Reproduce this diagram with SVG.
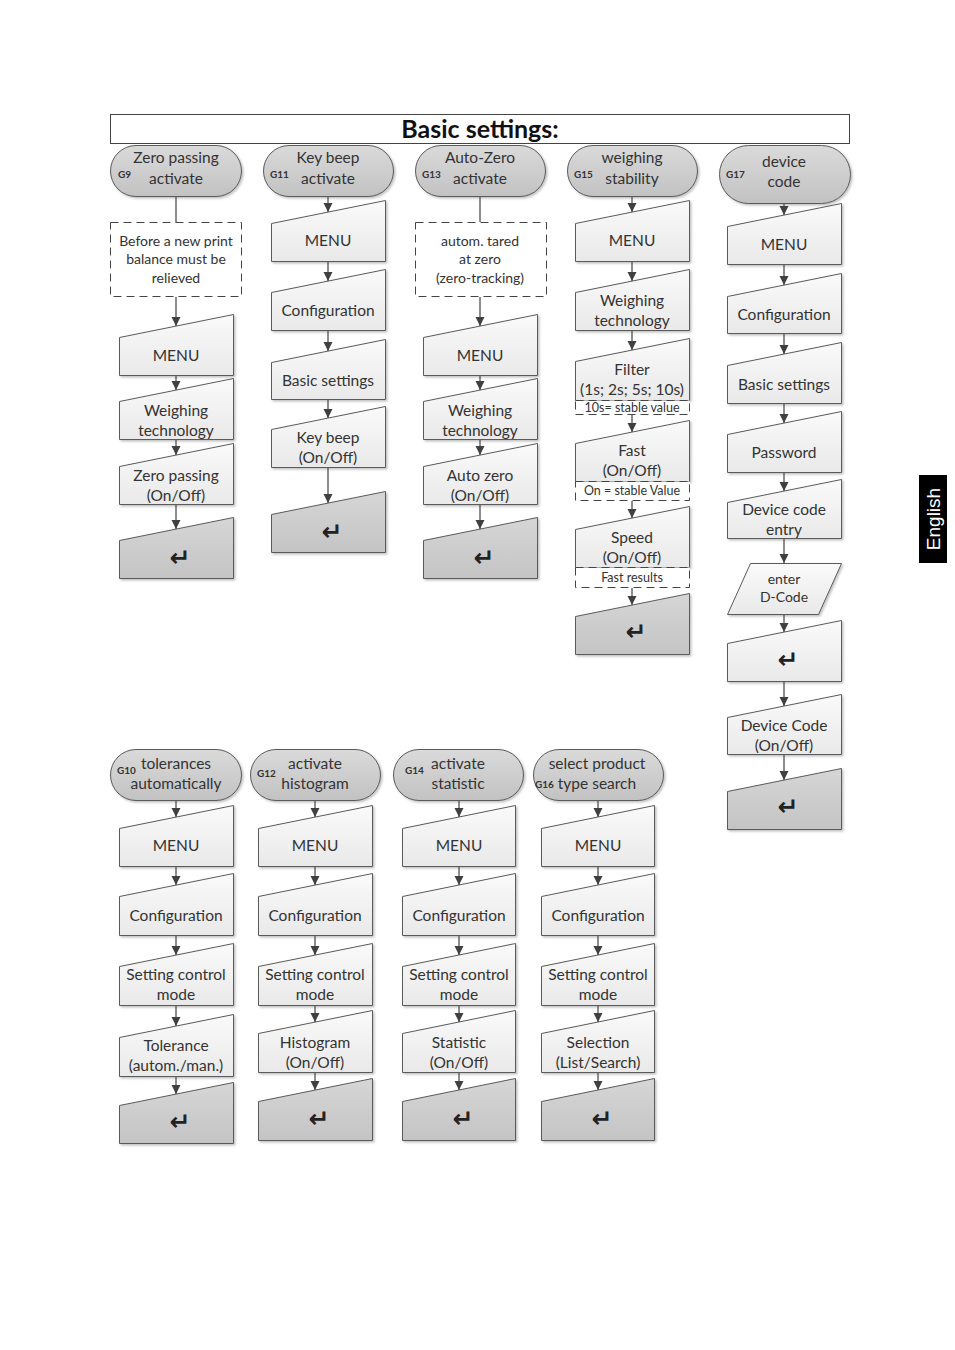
<svg xmlns="http://www.w3.org/2000/svg" width="955" height="1350" viewBox="0 0 955 1350">
<defs>
<linearGradient id="gPill" x1="0" y1="0" x2="0" y2="1"><stop offset="0" stop-color="#dadada"/><stop offset="1" stop-color="#c2c2c2"/></linearGradient>
<linearGradient id="gBox" x1="0" y1="0" x2="0" y2="1"><stop offset="0" stop-color="#fafafa"/><stop offset="1" stop-color="#e9e9e9"/></linearGradient>
<linearGradient id="gRet" x1="0" y1="0" x2="0" y2="1"><stop offset="0" stop-color="#d6d6d6"/><stop offset="1" stop-color="#c4c4c4"/></linearGradient>
<filter id="sh" x="-10%" y="-10%" width="130%" height="130%"><feDropShadow dx="1.5" dy="1.5" stdDeviation="1.2" flood-color="#000" flood-opacity="0.25"/></filter>
<marker id="ar" markerWidth="10" markerHeight="10" refX="9" refY="5" orient="auto" markerUnits="userSpaceOnUse"><path d="M0,0.5 L9,5 L0,9.5 Z" fill="#404040"/></marker>
</defs>
<style>
.pill{fill:url(#gPill);stroke:#5a5a5a;stroke-width:1;filter:url(#sh)}
.box{fill:url(#gBox);stroke:#5a5a5a;stroke-width:1;filter:url(#sh)}
.ret{fill:url(#gRet);stroke:#5a5a5a;stroke-width:1;filter:url(#sh)}
.dash{fill:#fff;stroke:#444;stroke-width:1;stroke-dasharray:8,5}
.note{fill:#fff;stroke:#444;stroke-width:1;stroke-dasharray:8,5}
.t{font-family:Lato,"Liberation Sans",sans-serif;font-size:15.5px;fill:#333;text-anchor:middle}
.s{font-family:Lato,"Liberation Sans",sans-serif;font-size:14px;fill:#333;text-anchor:middle}
.n{font-family:Lato,"Liberation Sans",sans-serif;font-size:12.5px;fill:#333;text-anchor:middle}
.g{font-family:Lato,"Liberation Sans",sans-serif;font-size:10px;font-weight:bold;fill:#333}
.r{font-family:"DejaVu Sans",sans-serif;font-size:25px;font-weight:bold;fill:#222;text-anchor:middle}
.c line{stroke:#505050;stroke-width:1.3}
</style>

<g id="title">
<rect x="110.5" y="114.5" width="739" height="29" fill="#fff" stroke="#444"/>
<text x="480" y="137.5" font-family="Lato,'Liberation Sans',sans-serif" font-size="25" font-weight="bold" fill="#111" text-anchor="middle">Basic settings:</text>
</g>

<!-- Column 1: G9 -->
<g id="g9"><rect class="pill" x="110.5" y="145.5" width="131" height="51" rx="25.5"/><text class="t" x="176" y="163">Zero passing</text><text class="t" x="176" y="184">activate</text><text class="g" x="118" y="178">G9</text></g>
<g id="c1note"><rect class="dash" x="110.5" y="222.5" width="131" height="74"/><text class="s" x="176" y="245.5">Before a new print</text><text class="s" x="176" y="264">balance must be</text><text class="s" x="176" y="282.5">relieved</text></g>
<g id="c1menu"><path class="box" d="M119.5,337.5 L233.5,314.5 L233.5,375.5 L119.5,375.5 Z"/><text class="t" x="176" y="361">MENU</text></g>
<g id="c1wt"><path class="box" d="M119.5,401.5 L233.5,378.5 L233.5,439.5 L119.5,439.5 Z"/><text class="t" x="176" y="416">Weighing</text><text class="t" x="176" y="436">technology</text></g>
<g id="c1zp"><path class="box" d="M119.5,466.5 L233.5,443.5 L233.5,504.5 L119.5,504.5 Z"/><text class="t" x="176" y="481">Zero passing</text><text class="t" x="176" y="501">(On/Off)</text></g>
<g id="c1ret"><path class="ret" d="M119.5,540.5 L233.5,517.5 L233.5,578.5 L119.5,578.5 Z"/><text class="r" x="180" y="566">↵</text></g>

<!-- Column 2: G11 -->
<g id="g11"><rect class="pill" x="263.5" y="145.5" width="130" height="51" rx="25.5"/><text class="t" x="328" y="163">Key beep</text><text class="t" x="328" y="184">activate</text><text class="g" x="270" y="178">G11</text></g>
<g id="c2menu"><path class="box" d="M271.5,223.5 L385.5,200.5 L385.5,261.5 L271.5,261.5 Z"/><text class="t" x="328" y="246">MENU</text></g>
<g id="c2conf"><path class="box" d="M271.5,292.5 L385.5,269.5 L385.5,330.5 L271.5,330.5 Z"/><text class="t" x="328" y="316">Configuration</text></g>
<g id="c2basic"><path class="box" d="M271.5,362.5 L385.5,339.5 L385.5,399.5 L271.5,399.5 Z"/><text class="t" x="328" y="386">Basic settings</text></g>
<g id="c2key"><path class="box" d="M271.5,429.5 L385.5,406.5 L385.5,467.5 L271.5,467.5 Z"/><text class="t" x="328" y="443">Key beep</text><text class="t" x="328" y="463">(On/Off)</text></g>
<g id="c2ret"><path class="ret" d="M271.5,514.5 L385.5,491.5 L385.5,552.5 L271.5,552.5 Z"/><text class="r" x="332" y="540">↵</text></g>

<!-- Column 3: G13 -->
<g id="g13"><rect class="pill" x="415.5" y="145.5" width="130" height="51" rx="25.5"/><text class="t" x="480" y="163">Auto-Zero</text><text class="t" x="480" y="184">activate</text><text class="g" x="422" y="178">G13</text></g>
<g id="c3note"><rect class="dash" x="415.5" y="222.5" width="131" height="74"/><text class="s" x="480" y="245.5">autom. tared</text><text class="s" x="480" y="264">at zero</text><text class="s" x="480" y="282.5">(zero-tracking)</text></g>
<g id="c3menu"><path class="box" d="M423.5,337.5 L537.5,314.5 L537.5,375.5 L423.5,375.5 Z"/><text class="t" x="480" y="361">MENU</text></g>
<g id="c3wt"><path class="box" d="M423.5,401.5 L537.5,378.5 L537.5,439.5 L423.5,439.5 Z"/><text class="t" x="480" y="416">Weighing</text><text class="t" x="480" y="436">technology</text></g>
<g id="c3az"><path class="box" d="M423.5,466.5 L537.5,443.5 L537.5,504.5 L423.5,504.5 Z"/><text class="t" x="480" y="481">Auto zero</text><text class="t" x="480" y="501">(On/Off)</text></g>
<g id="c3ret"><path class="ret" d="M423.5,540.5 L537.5,517.5 L537.5,578.5 L423.5,578.5 Z"/><text class="r" x="484" y="566">↵</text></g>

<!-- Column 4: G15 -->
<g id="g15"><rect class="pill" x="567.5" y="145.5" width="130" height="51" rx="25.5"/><text class="t" x="632" y="163">weighing</text><text class="t" x="632" y="184">stability</text><text class="g" x="574" y="178">G15</text></g>
<g id="c4menu"><path class="box" d="M575.5,223.5 L689.5,200.5 L689.5,261.5 L575.5,261.5 Z"/><text class="t" x="632" y="246">MENU</text></g>
<g id="c4wt"><path class="box" d="M575.5,292.5 L689.5,269.5 L689.5,330.5 L575.5,330.5 Z"/><text class="t" x="632" y="306">Weighing</text><text class="t" x="632" y="326">technology</text></g>
<g id="c4filter"><path class="box" d="M575.5,361.5 L689.5,338.5 L689.5,400.5 L575.5,400.5 Z"/><text class="t" x="632" y="375">Filter</text><text class="t" x="632" y="395">(1s; 2s; 5s; 10s)</text></g>
<g id="c4n1"><rect class="note" x="575.5" y="400.5" width="114" height="14"/><text class="n" x="632" y="412">10s= stable value</text></g>
<g id="c4fast"><path class="box" d="M575.5,443.5 L689.5,420.5 L689.5,481.5 L575.5,481.5 Z"/><text class="t" x="632" y="456">Fast</text><text class="t" x="632" y="476">(On/Off)</text></g>
<g id="c4n2"><rect class="note" x="575.5" y="481.5" width="114" height="19"/><text class="n" x="632" y="495">On = stable Value</text></g>
<g id="c4speed"><path class="box" d="M575.5,529.5 L689.5,506.5 L689.5,567.5 L575.5,567.5 Z"/><text class="t" x="632" y="543">Speed</text><text class="t" x="632" y="563">(On/Off)</text></g>
<g id="c4n3"><rect class="note" x="575.5" y="567.5" width="114" height="20"/><text class="n" x="632" y="582">Fast results</text></g>
<g id="c4ret"><path class="ret" d="M575.5,616.5 L689.5,593.5 L689.5,654.5 L575.5,654.5 Z"/><text class="r" x="636" y="640">↵</text></g>

<!-- Column 5: G17 -->
<g id="g17"><rect class="pill" x="719.5" y="145.5" width="131" height="58" rx="29"/><text class="t" x="784" y="167">device</text><text class="t" x="784" y="187">code</text><text class="g" x="726" y="178">G17</text></g>
<g id="c5menu"><path class="box" d="M727.5,226.5 L841.5,203.5 L841.5,264.5 L727.5,264.5 Z"/><text class="t" x="784" y="250">MENU</text></g>
<g id="c5conf"><path class="box" d="M727.5,296.5 L841.5,273.5 L841.5,333.5 L727.5,333.5 Z"/><text class="t" x="784" y="320">Configuration</text></g>
<g id="c5basic"><path class="box" d="M727.5,365.5 L841.5,342.5 L841.5,403.5 L727.5,403.5 Z"/><text class="t" x="784" y="390">Basic settings</text></g>
<g id="c5pw"><path class="box" d="M727.5,434.5 L841.5,411.5 L841.5,472.5 L727.5,472.5 Z"/><text class="t" x="784" y="458">Password</text></g>
<g id="c5dce"><path class="box" d="M727.5,502.5 L841.5,479.5 L841.5,538.5 L727.5,538.5 Z"/><text class="t" x="784" y="515">Device code</text><text class="t" x="784" y="535">entry</text></g>
<g id="c5enter"><path class="box" d="M750.5,563.5 L841.5,563.5 L818.5,614.5 L727.5,614.5 Z"/><text class="s" x="784" y="584">enter</text><text class="s" x="784" y="602">D-Code</text></g>
<g id="c5ret1"><path class="box" d="M727.5,643.5 L841.5,620.5 L841.5,681.5 L727.5,681.5 Z"/><text class="r" x="788" y="668">↵</text></g>
<g id="c5dc"><path class="box" d="M727.5,717.5 L841.5,694.5 L841.5,754.5 L727.5,754.5 Z"/><text class="t" x="784" y="731">Device Code</text><text class="t" x="784" y="751">(On/Off)</text></g>
<g id="c5ret2"><path class="ret" d="M727.5,791.5 L841.5,768.5 L841.5,829.5 L727.5,829.5 Z"/><text class="r" x="788" y="815">↵</text></g>

<!-- Bottom A: G10 -->
<g id="g10"><rect class="pill" x="110.5" y="749.5" width="131" height="51" rx="25.5"/><text class="t" x="176" y="769">tolerances</text><text class="t" x="176" y="789">automatically</text><text class="g" x="117" y="774">G10</text></g>
<g id="aMenu"><path class="box" d="M119.5,828.5 L233.5,805.5 L233.5,866.5 L119.5,866.5 Z"/><text class="t" x="176" y="851">MENU</text></g>
<g id="aConf"><path class="box" d="M119.5,896.5 L233.5,873.5 L233.5,935.5 L119.5,935.5 Z"/><text class="t" x="176" y="921">Configuration</text></g>
<g id="aScm"><path class="box" d="M119.5,966.5 L233.5,943.5 L233.5,1005.5 L119.5,1005.5 Z"/><text class="t" x="176" y="980">Setting control</text><text class="t" x="176" y="1000">mode</text></g>
<g id="aTol"><path class="box" d="M119.5,1037.5 L233.5,1014.5 L233.5,1076.5 L119.5,1076.5 Z"/><text class="t" x="176" y="1051">Tolerance</text><text class="t" x="176" y="1071">(autom./man.)</text></g>
<g id="aRet"><path class="ret" d="M119.5,1105.5 L233.5,1082.5 L233.5,1143.5 L119.5,1143.5 Z"/><text class="r" x="180" y="1130">↵</text></g>

<!-- Bottom B: G12 -->
<g id="g12"><rect class="pill" x="250.5" y="749.5" width="130" height="51" rx="25.5"/><text class="t" x="315" y="769">activate</text><text class="t" x="315" y="789">histogram</text><text class="g" x="257" y="777">G12</text></g>
<g id="bMenu"><path class="box" d="M258.5,828.5 L372.5,805.5 L372.5,866.5 L258.5,866.5 Z"/><text class="t" x="315" y="851">MENU</text></g>
<g id="bConf"><path class="box" d="M258.5,896.5 L372.5,873.5 L372.5,935.5 L258.5,935.5 Z"/><text class="t" x="315" y="921">Configuration</text></g>
<g id="bScm"><path class="box" d="M258.5,966.5 L372.5,943.5 L372.5,1005.5 L258.5,1005.5 Z"/><text class="t" x="315" y="980">Setting control</text><text class="t" x="315" y="1000">mode</text></g>
<g id="bHist"><path class="box" d="M258.5,1033.5 L372.5,1010.5 L372.5,1072.5 L258.5,1072.5 Z"/><text class="t" x="315" y="1048">Histogram</text><text class="t" x="315" y="1068">(On/Off)</text></g>
<g id="bRet"><path class="ret" d="M258.5,1101.5 L372.5,1078.5 L372.5,1140.5 L258.5,1140.5 Z"/><text class="r" x="319" y="1127">↵</text></g>

<!-- Bottom C: G14 -->
<g id="g14"><rect class="pill" x="393.5" y="749.5" width="130" height="51" rx="25.5"/><text class="t" x="458" y="769">activate</text><text class="t" x="458" y="789">statistic</text><text class="g" x="405" y="774">G14</text></g>
<g id="cMenu"><path class="box" d="M402.5,828.5 L515.5,805.5 L515.5,866.5 L402.5,866.5 Z"/><text class="t" x="459" y="851">MENU</text></g>
<g id="cConf"><path class="box" d="M402.5,896.5 L515.5,873.5 L515.5,935.5 L402.5,935.5 Z"/><text class="t" x="459" y="921">Configuration</text></g>
<g id="cScm"><path class="box" d="M402.5,966.5 L515.5,943.5 L515.5,1005.5 L402.5,1005.5 Z"/><text class="t" x="459" y="980">Setting control</text><text class="t" x="459" y="1000">mode</text></g>
<g id="cStat"><path class="box" d="M402.5,1033.5 L515.5,1010.5 L515.5,1072.5 L402.5,1072.5 Z"/><text class="t" x="459" y="1048">Statistic</text><text class="t" x="459" y="1068">(On/Off)</text></g>
<g id="cRet"><path class="ret" d="M402.5,1101.5 L515.5,1078.5 L515.5,1140.5 L402.5,1140.5 Z"/><text class="r" x="463" y="1127">↵</text></g>

<!-- Bottom D: G16 -->
<g id="g16"><rect class="pill" x="533.5" y="749.5" width="130" height="51" rx="25.5"/><text class="t" x="597" y="769">select product</text><text class="t" x="597" y="789">type search</text><text class="g" x="535" y="788">G16</text></g>
<g id="dMenu"><path class="box" d="M541.5,828.5 L654.5,805.5 L654.5,866.5 L541.5,866.5 Z"/><text class="t" x="598" y="851">MENU</text></g>
<g id="dConf"><path class="box" d="M541.5,896.5 L654.5,873.5 L654.5,935.5 L541.5,935.5 Z"/><text class="t" x="598" y="921">Configuration</text></g>
<g id="dScm"><path class="box" d="M541.5,966.5 L654.5,943.5 L654.5,1005.5 L541.5,1005.5 Z"/><text class="t" x="598" y="980">Setting control</text><text class="t" x="598" y="1000">mode</text></g>
<g id="dSel"><path class="box" d="M541.5,1033.5 L654.5,1010.5 L654.5,1072.5 L541.5,1072.5 Z"/><text class="t" x="598" y="1048">Selection</text><text class="t" x="598" y="1068">(List/Search)</text></g>
<g id="dRet"><path class="ret" d="M541.5,1101.5 L654.5,1078.5 L654.5,1140.5 L541.5,1140.5 Z"/><text class="r" x="602" y="1127">↵</text></g>

<g id="connectors" class="c">
<line x1="176" y1="197" x2="176" y2="222"/>
<line x1="176" y1="297" x2="176" y2="326" marker-end="url(#ar)"/>
<line x1="176" y1="376" x2="176" y2="390" marker-end="url(#ar)"/>
<line x1="176" y1="440" x2="176" y2="455" marker-end="url(#ar)"/>
<line x1="176" y1="505" x2="176" y2="529" marker-end="url(#ar)"/>

<line x1="328" y1="197" x2="328" y2="212" marker-end="url(#ar)"/>
<line x1="328" y1="262" x2="328" y2="281" marker-end="url(#ar)"/>
<line x1="328" y1="331" x2="328" y2="351" marker-end="url(#ar)"/>
<line x1="328" y1="400" x2="328" y2="418" marker-end="url(#ar)"/>
<line x1="328" y1="468" x2="328" y2="503" marker-end="url(#ar)"/>

<line x1="480" y1="197" x2="480" y2="222"/>
<line x1="480" y1="297" x2="480" y2="326" marker-end="url(#ar)"/>
<line x1="480" y1="376" x2="480" y2="390" marker-end="url(#ar)"/>
<line x1="480" y1="440" x2="480" y2="455" marker-end="url(#ar)"/>
<line x1="480" y1="505" x2="480" y2="529" marker-end="url(#ar)"/>

<line x1="632" y1="197" x2="632" y2="212" marker-end="url(#ar)"/>
<line x1="632" y1="262" x2="632" y2="281" marker-end="url(#ar)"/>
<line x1="632" y1="331" x2="632" y2="350" marker-end="url(#ar)"/>
<line x1="632" y1="415" x2="632" y2="432" marker-end="url(#ar)"/>
<line x1="632" y1="501" x2="632" y2="518" marker-end="url(#ar)"/>
<line x1="632" y1="588" x2="632" y2="605" marker-end="url(#ar)"/>

<line x1="784" y1="204" x2="784" y2="215" marker-end="url(#ar)"/>
<line x1="784" y1="265" x2="784" y2="285" marker-end="url(#ar)"/>
<line x1="784" y1="334" x2="784" y2="354" marker-end="url(#ar)"/>
<line x1="784" y1="404" x2="784" y2="423" marker-end="url(#ar)"/>
<line x1="784" y1="473" x2="784" y2="491" marker-end="url(#ar)"/>
<line x1="784" y1="539" x2="784" y2="563" marker-end="url(#ar)"/>
<line x1="784" y1="615" x2="784" y2="632" marker-end="url(#ar)"/>
<line x1="784" y1="682" x2="784" y2="706" marker-end="url(#ar)"/>
<line x1="784" y1="755" x2="784" y2="780" marker-end="url(#ar)"/>

<line x1="176" y1="801" x2="176" y2="817" marker-end="url(#ar)"/>
<line x1="176" y1="867" x2="176" y2="885" marker-end="url(#ar)"/>
<line x1="176" y1="936" x2="176" y2="955" marker-end="url(#ar)"/>
<line x1="176" y1="1006" x2="176" y2="1026" marker-end="url(#ar)"/>
<line x1="176" y1="1077" x2="176" y2="1094" marker-end="url(#ar)"/>

<line x1="315" y1="801" x2="315" y2="817" marker-end="url(#ar)"/>
<line x1="315" y1="867" x2="315" y2="885" marker-end="url(#ar)"/>
<line x1="315" y1="936" x2="315" y2="955" marker-end="url(#ar)"/>
<line x1="315" y1="1006" x2="315" y2="1022" marker-end="url(#ar)"/>
<line x1="315" y1="1073" x2="315" y2="1090" marker-end="url(#ar)"/>

<line x1="459" y1="801" x2="459" y2="817" marker-end="url(#ar)"/>
<line x1="459" y1="867" x2="459" y2="885" marker-end="url(#ar)"/>
<line x1="459" y1="936" x2="459" y2="955" marker-end="url(#ar)"/>
<line x1="459" y1="1006" x2="459" y2="1022" marker-end="url(#ar)"/>
<line x1="459" y1="1073" x2="459" y2="1090" marker-end="url(#ar)"/>

<line x1="598" y1="801" x2="598" y2="817" marker-end="url(#ar)"/>
<line x1="598" y1="867" x2="598" y2="885" marker-end="url(#ar)"/>
<line x1="598" y1="936" x2="598" y2="955" marker-end="url(#ar)"/>
<line x1="598" y1="1006" x2="598" y2="1022" marker-end="url(#ar)"/>
<line x1="598" y1="1073" x2="598" y2="1090" marker-end="url(#ar)"/>
</g>

<g id="tab">
<rect x="919" y="475" width="28" height="88" fill="#000"/>
<text x="940" y="519" transform="rotate(-90 940 519)" font-family="'Liberation Sans',Arial,sans-serif" font-size="19" fill="#fff" text-anchor="middle">English</text>
</g>
</svg>
